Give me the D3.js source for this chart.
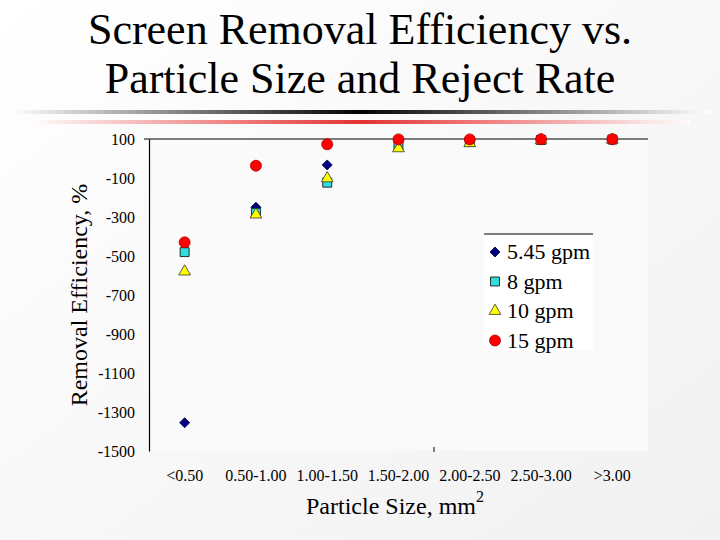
<!DOCTYPE html>
<html><head><meta charset="utf-8">
<script src="https://cdn.jsdelivr.net/npm/d3@7"></script>
<style>body{margin:0;} svg{display:block;}</style>
</head><body>
<svg id="c" width="720" height="540"></svg>
<script>
const categories = ["<0.50","0.50-1.00","1.00-1.50","1.50-2.00","2.00-2.50","2.50-3.00",">3.00"];
const s545 = [-1355, -250, -33, 90, 95, 97, 98];
const s8   = [-480, -278, -124, 66, 85, 95, 97];
const s10  = [-580, -288, -102, 52, 78, 93, 96];
const s15  = [-430, -37, 73, 98, 98, 99, 99];
const seriesNames = ["5.45 gpm","8 gpm","10 gpm","15 gpm"];
const yTicks = [100,-100,-300,-500,-700,-900,-1100,-1300,-1500];

const svg = d3.select("#c");
const font = "'Liberation Serif','Times New Roman',serif";
const defs = svg.append("defs");
const bg = defs.append("linearGradient").attr("id","bg").attr("x1",0).attr("y1",0).attr("x2",1).attr("y2",1);
bg.append("stop").attr("offset","0%").attr("stop-color","#ffffff");
bg.append("stop").attr("offset","100%").attr("stop-color","#f1f1f1");
const g1 = defs.append("linearGradient").attr("id","gk");
g1.append("stop").attr("offset","0%").attr("stop-color","#ffffff");
g1.append("stop").attr("offset","50%").attr("stop-color","#000000");
g1.append("stop").attr("offset","100%").attr("stop-color","#ffffff");
const g2 = defs.append("linearGradient").attr("id","gr");
g2.append("stop").attr("offset","0%").attr("stop-color","#ffffff");
g2.append("stop").attr("offset","50%").attr("stop-color","#e00000");
g2.append("stop").attr("offset","100%").attr("stop-color","#ffffff");

svg.append("rect").attr("width",720).attr("height",540).attr("fill","url(#bg)");

// Title
const title = svg.append("text").attr("font-family",font).attr("font-size",44).attr("text-anchor","middle").attr("fill","#000");
title.append("tspan").attr("x",360).attr("y",44).text("Screen Removal Efficiency vs.");
title.append("tspan").attr("x",360).attr("y",93).text("Particle Size and Reject Rate");

// decorative lines
svg.append("rect").attr("x",10).attr("y",110).attr("width",700).attr("height",4).attr("fill","url(#gk)");
svg.append("rect").attr("x",30).attr("y",120).attr("width",660).attr("height",4).attr("fill","url(#gr)").attr("opacity",0.8);

// scales
const x = d3.scaleBand().domain(categories).range([149,648]);
const y = d3.scaleLinear().domain([-1500,100]).range([451,139]);

// plot area background
svg.append("rect").attr("x",149).attr("y",139).attr("width",499).attr("height",312).attr("fill","#fafafa");

// y axis
const ya = svg.append("g").attr("transform","translate(149,0)")
  .call(d3.axisLeft(y).tickValues(yTicks).tickSize(0).tickPadding(14).tickFormat(d => String(d)));
ya.select(".domain").attr("stroke","#000").attr("stroke-width",1.2);
ya.selectAll("text").attr("font-family",font).attr("font-size",16).attr("fill","#000");
svg.append("line").attr("x1",144).attr("x2",149).attr("y1",y(100)).attr("y2",y(100)).attr("stroke","#000");

// x axis (line at top, labels at bottom)
svg.append("line").attr("x1",149).attr("x2",648).attr("y1",y(100)).attr("y2",y(100)).attr("stroke","#000").attr("stroke-width",1.2);
const xa = svg.append("g").attr("transform","translate(0,470)")
  .call(d3.axisBottom(x).tickSize(0).tickPadding(0));
xa.select(".domain").remove();
xa.selectAll("text").attr("font-family",font).attr("font-size",16).attr("fill","#000");
svg.append("line").attr("x1",434).attr("x2",434).attr("y1",447).attr("y2",452).attr("stroke","#000");

// axis titles
svg.append("text").attr("transform","translate(87,295) rotate(-90)").attr("text-anchor","middle")
  .attr("font-family",font).attr("font-size",24).text("Removal Efficiency, %");
const xt = svg.append("text").attr("x",395).attr("y",514).attr("text-anchor","middle")
  .attr("font-family",font).attr("font-size",24);
xt.append("tspan").text("Particle Size, mm");
xt.append("tspan").attr("dy",-12).attr("font-size",16).text("2");

// markers
const sym = [
  {data:s545, type:d3.symbolSquare, size:50, rot:45, fill:"#000080", stroke:"#000040"},
  {data:s8, type:d3.symbolSquare, size:80, rot:0, fill:"#33dddd", stroke:"#000"},
  {data:s10, type:d3.symbolTriangle, size:60, rot:0, fill:"#ffff00", stroke:"#333"},
  {data:s15, type:d3.symbolCircle, size:95, rot:0, fill:"#ff0000", stroke:"#aa0000"}
];
sym.forEach(s => {
  svg.append("g").selectAll("path").data(s.data).join("path")
    .attr("transform",(d,i)=>`translate(${x(categories[i])+x.bandwidth()/2},${y(d)}) rotate(${s.rot})`)
    .attr("d",d3.symbol().type(s.type).size(s.size))
    .attr("fill",s.fill).attr("stroke",s.stroke).attr("stroke-width",0.8);
});

// legend
svg.append("rect").attr("x",484).attr("y",234).attr("width",109).attr("height",117).attr("fill","#ffffff");
svg.append("line").attr("x1",484).attr("x2",593).attr("y1",234).attr("y2",234).attr("stroke","#000");
seriesNames.forEach((n,i)=>{
  const yy = 252 + i*29.5;
  svg.append("path").attr("transform",`translate(495,${yy}) rotate(${sym[i].rot})`)
    .attr("d",d3.symbol().type(sym[i].type).size(sym[i].size))
    .attr("fill",sym[i].fill).attr("stroke",sym[i].stroke).attr("stroke-width",0.8);
  svg.append("text").attr("x",507).attr("y",yy+7).attr("font-family",font).attr("font-size",22).text(n);
});
</script>
</body></html>
